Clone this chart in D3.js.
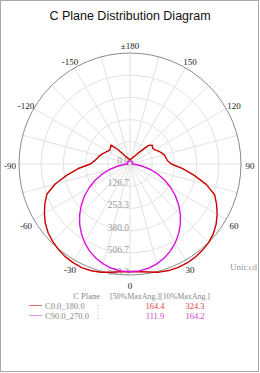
<!DOCTYPE html>
<html>
<head>
<meta charset="utf-8">
<script src="https://cdn.jsdelivr.net/npm/d3@7"></script>
<style>
  html, body { margin: 0; padding: 0; background: #fff; }
  svg { display: block; }
</style>
</head>
<body>
<div id="chart"></div>
<script>
// gamma angles (deg from nadir) and intensities (cd)
const gammas = [0, 5, 10, 15, 20, 25, 30, 35, 40, 45, 50, 55, 60, 65, 70, 75, 80, 85, 90,
  95, 100, 105, 110, 115, 120, 125, 130, 135, 140, 145, 150, 155, 160, 165, 170, 175, 180];

const c0 = [613, 617, 626, 639, 647, 651, 652, 649, 643, 634, 620, 600, 574, 545, 514, 450, 372, 302, 236,
  215, 208, 202, 190, 176, 162, 158, 166, 150, 98, 68, 50, 42, 36, 32, 28, 26, 25];
const c180 = [613, 617, 627, 639, 648, 652, 650, 645, 636, 624, 610, 590, 564, 536, 505, 442, 365, 296, 226,
  204, 190, 180, 168, 156, 146, 140, 146, 153, 110, 70, 50, 42, 36, 32, 28, 26, 25];
const c90 = [615, 612, 604, 590, 571, 547, 518, 484, 447, 406, 362, 316, 268, 219, 170, 121, 75, 33, 12,
  14, 15, 16, 16, 17, 17, 17, 18, 18, 18, 18, 18, 18, 18, 18, 18, 18, 18];
const c270 = c90.slice();

const radialTicks = [0, 126.7, 253.3, 380.0, 506.7, 633.3];
const angleTicks = [0, 30, 60, 90, 120, 150, 180, -150, -120, -90, -60, -30];

const legendRows = [
  { name: "C0.0_180.0", half: "164.4", tenth: "324.3" },
  { name: "C90.0_270.0", half: "111.9", tenth: "164.2" }
];
const curveColors = ["#cc0000", "#dd11dd"];
const legendLineColors = ["#e06868", "#e68ae6"];
const legendTextColors = ["#e04040", "#d040d0"];

const W = 260, H = 373;
const cx = 130, cy = 164, R = 111;
const serif = "'Liberation Serif', 'DejaVu Serif', serif";

const svg = d3.select("#chart").append("svg")
  .attr("width", W).attr("height", H);

svg.append("rect")
  .attr("x", 0.5).attr("y", 0.5)
  .attr("width", W - 2).attr("height", H - 2)
  .attr("fill", "#fff").attr("stroke", "#a8a8a8");

svg.append("text")
  .attr("x", W / 2).attr("y", 20)
  .attr("text-anchor", "middle")
  .attr("font-family", "'Liberation Sans', Arial, sans-serif")
  .attr("font-size", 12.5)
  .attr("fill", "#111")
  .text("C Plane Distribution Diagram");

const r = d3.scaleLinear().domain([0, 633.3]).range([0, R]);
const toRad = d => d * Math.PI / 180;

const g = svg.append("g").attr("transform", `translate(${cx},${cy})`);

// spokes every 15 degrees
g.append("g").selectAll("line")
  .data(d3.range(0, 360, 15))
  .join("line")
  .attr("x1", 0).attr("y1", 0)
  .attr("x2", d => R * Math.sin(toRad(d)))
  .attr("y2", d => R * Math.cos(toRad(d)))
  .attr("stroke", "#e2e2e2").attr("stroke-width", 1);

// rings
g.append("g").selectAll("circle")
  .data(radialTicks.slice(1))
  .join("circle")
  .attr("r", d => r(d))
  .attr("fill", "none")
  .attr("stroke", (d, i, n) => i === n.length - 1 ? "#8a8a8a" : "#e2e2e2")
  .attr("stroke-width", 1);

// radial labels along the nadir axis
g.append("g").selectAll("text")
  .data(radialTicks)
  .join("text")
  .attr("x", -1)
  .attr("y", d => r(d))
  .attr("text-anchor", "end")
  .attr("font-family", serif)
  .attr("font-size", 9.5)
  .attr("fill", "#9a9a9a")
  .text(d => d.toFixed(1));

// angle labels
g.append("g").selectAll("text")
  .data(angleTicks)
  .join("text")
  .attr("x", d => 120 * Math.sin(toRad(d)))
  .attr("y", d => 120 * Math.cos(toRad(d)) + 2)
  .attr("dy", "0.35em")
  .attr("text-anchor", "middle")
  .attr("font-family", serif)
  .attr("font-size", 9)
  .attr("fill", "#222")
  .text(d => d === 180 ? "\u00b1180" : d);

// curves: right half uses theta, left half uses -theta
const radial = d3.lineRadial()
  .angle(d => Math.PI - toRad(d[0]))
  .radius(d => r(d[1]))
  .curve(d3.curveLinearClosed);

function planePoints(right, left) {
  const pts = [];
  for (let i = gammas.length - 1; i > 0; i--) pts.push([-gammas[i], left[i]]);
  for (let i = 0; i < gammas.length; i++) pts.push([gammas[i], right[i]]);
  return pts;
}

const planes = [planePoints(c0, c180), planePoints(c90, c270)];

g.append("g").selectAll("path")
  .data(planes)
  .join("path")
  .attr("d", d => radial(d))
  .attr("fill", "none")
  .attr("stroke", (d, i) => curveColors[i])
  .attr("stroke-width", 1.4)
  .attr("stroke-linejoin", "round");

svg.append("text")
  .attr("x", 257).attr("y", 270)
  .attr("text-anchor", "end")
  .attr("font-family", serif)
  .attr("font-size", 9)
  .attr("fill", "#999")
  .text("Unit:cd");

// legend
const lg = svg.append("g")
  .attr("font-family", serif)
  .attr("font-size", 8.5);

lg.append("text").attr("x", 100).attr("y", 298.5)
  .attr("text-anchor", "end").attr("fill", "#888").text("C Plane");
lg.append("text").attr("x", 110).attr("y", 298.5)
  .attr("textLength", 100).attr("lengthAdjust", "spacingAndGlyphs")
  .attr("fill", "#888").text("[50%MaxAng.][10%MaxAng.]");

const rows = lg.selectAll("g.row")
  .data(legendRows)
  .join("g")
  .attr("class", "row")
  .attr("transform", (d, i) => `translate(0,${305.5 + i * 10})`);

rows.append("line")
  .attr("x1", 29).attr("x2", 42)
  .attr("stroke", (d, i) => legendLineColors[i]).attr("stroke-width", 1);
rows.append("text").attr("x", 45).attr("y", 3)
  .attr("fill", "#888").text(d => d.name);
rows.append("text").attr("x", 97).attr("y", 3)
  .attr("fill", "#888").text(":");
rows.append("text").attr("x", 155).attr("y", 3)
  .attr("text-anchor", "middle")
  .attr("fill", (d, i) => legendTextColors[i]).text(d => d.half);
rows.append("text").attr("x", 195).attr("y", 3)
  .attr("text-anchor", "middle")
  .attr("fill", (d, i) => legendTextColors[i]).text(d => d.tenth);
</script>
</body>
</html>
